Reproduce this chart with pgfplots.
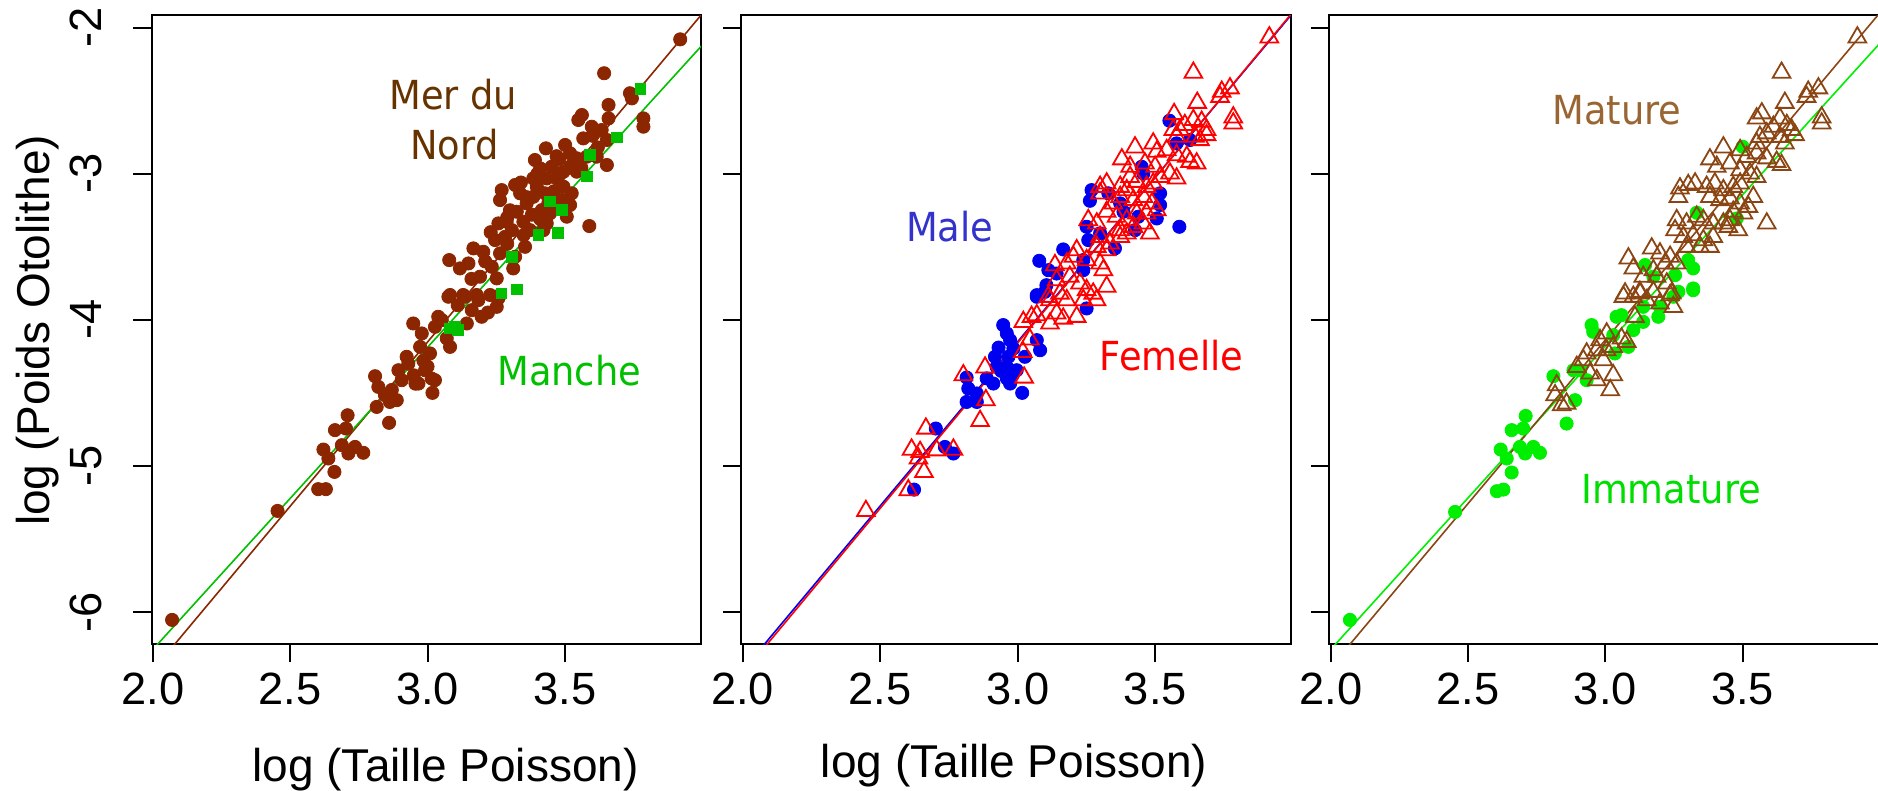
\documentclass[border=0pt]{standalone}
\usepackage{fontspec}
\setmainfont{Liberation Sans}
\newfontfamily\annfont[FakeStretch=0.92]{DejaVu Sans}
\usepackage{pgfplots}
\usepackage{pgfplotstable}
\pgfplotsset{compat=1.18}

\definecolor{nordbrown}{HTML}{8B2600}
\definecolor{nordtext}{HTML}{663300}
\definecolor{manchegreen}{HTML}{00C000}
\definecolor{maleblue}{HTML}{0000F0}
\definecolor{maletext}{HTML}{3333CC}
\definecolor{femred}{HTML}{FF0000}
\definecolor{immgreen}{HTML}{00EE00}
\definecolor{immtext}{HTML}{00DD00}
\definecolor{matbrown}{HTML}{8B4513}
\definecolor{mattext}{HTML}{996633}

% ---- panel 1 : region ----
\pgfplotstableread{
x y
2.070 -6.054
2.454 -5.308
2.602 -5.159
2.630 -5.159
2.661 -5.041
2.621 -4.888
2.639 -4.949
2.663 -4.755
2.703 -4.744
2.709 -4.653
2.688 -4.858
2.712 -4.915
2.736 -4.870
2.766 -4.910
2.860 -4.705
2.815 -4.596
2.809 -4.386
2.821 -4.459
2.863 -4.562
2.888 -4.550
2.845 -4.516
2.894 -4.345
2.924 -4.253
2.906 -4.413
2.967 -4.436
2.991 -4.345
3.027 -4.413
3.018 -4.500
3.009 -4.230
2.973 -4.185
2.948 -4.025
2.979 -4.093
3.027 -4.048
3.039 -3.979
3.070 -4.127
3.082 -4.185
3.076 -3.842
3.137 -3.842
3.185 -3.865
3.143 -4.025
3.197 -3.979
3.252 -3.911
3.258 -3.853
3.161 -3.934
3.052 -4.002
2.870 -4.480
2.930 -4.300
2.950 -4.380
2.985 -4.280
3.000 -4.320
3.015 -4.402
2.956 -4.437
3.110 -3.900
3.220 -3.950
3.920 -2.080
3.643 -2.312
3.737 -2.449
3.744 -2.484
3.659 -2.529
3.562 -2.598
3.549 -2.632
3.786 -2.621
3.786 -2.678
3.659 -2.621
3.598 -2.678
3.634 -2.701
3.653 -2.769
3.567 -2.758
3.431 -2.826
3.501 -2.803
3.519 -2.860
3.543 -2.894
3.580 -2.883
3.616 -2.883
3.653 -2.940
3.391 -2.906
3.452 -2.952
3.410 -2.963
3.495 -2.986
3.543 -2.986
3.385 -3.032
3.434 -3.032
3.471 -3.032
3.270 -3.112
3.319 -3.077
3.337 -3.134
3.264 -3.180
3.398 -3.089
3.385 -3.158
3.428 -3.134
3.495 -3.089
3.525 -3.134
3.489 -3.180
3.361 -3.203
3.325 -3.260
3.416 -3.249
3.446 -3.271
3.471 -3.203
3.519 -3.214
3.507 -3.294
3.589 -3.358
3.434 -3.340
3.422 -3.386
3.258 -3.340
3.288 -3.329
3.307 -3.386
3.349 -3.329
3.373 -3.386
3.355 -3.500
3.246 -3.454
3.282 -3.432
3.167 -3.511
3.203 -3.534
3.264 -3.545
3.312 -3.648
3.319 -3.568
3.079 -3.591
3.118 -3.648
3.149 -3.614
3.234 -3.637
3.252 -3.716
3.191 -3.705
3.082 -3.830
3.130 -3.830
3.179 -3.830
3.228 -3.830
3.264 -3.830
3.300 -3.250
3.350 -3.420
3.210 -3.600
3.160 -3.720
3.290 -3.480
3.380 -3.280
3.460 -3.120
3.560 -2.960
3.480 -2.900
3.230 -3.400
3.400 -3.000
3.470 -2.880
3.520 -2.950
3.600 -2.740
3.360 -3.160
3.290 -3.300
3.440 -3.200
3.340 -3.060
3.410 -3.310
3.620 -2.820
}\nord
\pgfplotstableread{
x y
3.776 -2.420
3.689 -2.751
3.580 -3.020
3.476 -3.404
3.404 -3.420
3.325 -3.792
3.270 -3.820
3.307 -3.568
3.592 -2.872
3.489 -3.249
3.446 -3.191
3.100 -4.048
3.080 -4.060
3.110 -4.070
}\manche

% ---- panel 2 : sex ----
\pgfplotstableread{
x y
2.623 -5.162
2.702 -4.744
2.735 -4.870
2.766 -4.915
2.814 -4.395
2.820 -4.470
2.814 -4.562
2.851 -4.562
2.851 -4.504
2.887 -4.401
2.911 -4.436
2.917 -4.253
2.923 -4.322
2.960 -4.401
2.972 -4.436
2.996 -4.345
2.960 -4.322
3.016 -4.500
2.947 -4.036
2.960 -4.093
2.972 -4.139
2.984 -4.196
2.966 -4.253
3.026 -4.253
3.069 -4.139
3.081 -4.208
3.069 -3.842
3.099 -3.808
3.250 -3.922
2.940 -4.350
2.980 -4.380
2.930 -4.190
3.551 -2.637
3.577 -2.792
3.626 -2.769
3.450 -2.952
3.456 -2.998
3.268 -3.112
3.262 -3.185
3.329 -3.134
3.517 -3.134
3.517 -3.214
3.505 -3.306
3.438 -3.294
3.587 -3.363
3.372 -3.203
3.384 -3.260
3.250 -3.363
3.256 -3.454
3.299 -3.408
3.426 -3.386
3.353 -3.511
3.165 -3.518
3.078 -3.596
3.111 -3.660
3.141 -3.683
3.104 -3.763
3.069 -3.831
3.238 -3.591
3.238 -3.660
}\male
\pgfplotstableread{
x y
2.448 -5.308
2.602 -5.166
2.659 -5.041
2.614 -4.888
2.645 -4.904
2.666 -4.744
2.639 -4.949
2.705 -4.893
2.766 -4.888
2.863 -4.692
2.884 -4.550
2.802 -4.379
2.881 -4.326
3.023 -4.395
3.018 -4.219
3.044 -4.134
3.020 -4.014
3.050 -3.979
3.069 -3.968
3.117 -4.025
3.165 -3.991
3.214 -3.979
3.141 -3.956
3.117 -3.865
3.178 -3.865
3.238 -3.865
3.286 -3.865
3.914 -2.066
3.638 -2.308
3.741 -2.438
3.771 -2.415
3.735 -2.473
3.652 -2.514
3.568 -2.591
3.783 -2.614
3.783 -2.655
3.638 -2.632
3.668 -2.644
3.686 -2.700
3.607 -2.666
3.589 -2.700
3.644 -2.746
3.662 -2.769
3.686 -2.735
3.565 -2.700
3.577 -2.746
3.426 -2.819
3.492 -2.792
3.505 -2.849
3.541 -2.838
3.378 -2.901
3.408 -2.952
3.577 -2.872
3.614 -2.883
3.626 -2.918
3.650 -2.929
3.462 -2.929
3.499 -2.952
3.517 -3.021
3.553 -2.998
3.577 -3.032
3.299 -3.089
3.323 -3.066
3.372 -3.089
3.408 -3.021
3.432 -3.055
3.396 -3.112
3.468 -3.089
3.492 -3.066
3.299 -3.134
3.347 -3.203
3.372 -3.158
3.420 -3.180
3.456 -3.158
3.487 -3.203
3.505 -3.249
3.468 -3.271
3.432 -3.271
3.256 -3.317
3.287 -3.340
3.323 -3.260
3.359 -3.294
3.396 -3.317
3.372 -3.386
3.420 -3.363
3.456 -3.340
3.480 -3.408
3.299 -3.432
3.335 -3.477
3.372 -3.432
3.396 -3.408
3.287 -3.500
3.323 -3.523
3.214 -3.523
3.202 -3.568
3.178 -3.614
3.250 -3.591
3.299 -3.614
3.311 -3.660
3.135 -3.625
3.141 -3.728
3.189 -3.705
3.226 -3.751
3.250 -3.796
3.274 -3.820
3.323 -3.773
3.153 -3.820
3.111 -3.842
}\femelle

% ---- panel 3 : maturity ----
\pgfplotstableread{
x y
2.070 -6.054
2.453 -5.315
2.605 -5.173
2.629 -5.162
2.659 -5.045
2.619 -4.888
2.641 -4.949
2.659 -4.755
2.701 -4.744
2.710 -4.658
2.689 -4.870
2.708 -4.915
2.738 -4.870
2.762 -4.910
2.859 -4.710
2.811 -4.386
2.884 -4.345
2.890 -4.550
2.950 -4.036
2.956 -4.082
3.041 -3.979
3.059 -3.968
3.029 -4.105
3.035 -4.230
3.084 -4.185
3.102 -4.070
3.138 -4.014
3.193 -3.979
3.138 -3.911
3.199 -3.911
3.248 -3.842
3.320 -3.797
2.908 -4.345
2.932 -4.413
3.500 -2.815
3.333 -3.267
3.479 -3.306
3.320 -3.648
3.302 -3.591
3.320 -3.785
3.266 -3.808
3.145 -3.625
3.175 -3.705
3.254 -3.694
}\immature
\pgfplotstableread{
x y
2.823 -4.447
2.817 -4.516
2.859 -4.573
2.841 -4.584
2.896 -4.322
2.920 -4.276
2.945 -4.367
2.969 -4.413
3.018 -4.481
3.029 -4.379
2.932 -4.230
2.969 -4.208
2.993 -4.276
3.005 -4.208
2.981 -4.139
3.005 -4.093
3.029 -4.185
3.059 -4.127
3.078 -4.150
3.066 -3.842
3.102 -3.842
3.126 -3.808
3.151 -3.865
3.199 -3.888
3.248 -3.911
3.236 -3.831
3.175 -3.808
3.108 -3.979
3.918 -2.066
3.642 -2.308
3.739 -2.438
3.776 -2.415
3.733 -2.473
3.654 -2.514
3.570 -2.586
3.551 -2.621
3.788 -2.614
3.788 -2.655
3.636 -2.621
3.661 -2.666
3.679 -2.700
3.612 -2.678
3.588 -2.723
3.636 -2.747
3.654 -2.792
3.691 -2.735
3.563 -2.747
3.551 -2.792
3.430 -2.819
3.491 -2.838
3.515 -2.884
3.551 -2.860
3.588 -2.894
3.381 -2.901
3.406 -2.952
3.624 -2.918
3.642 -2.940
3.454 -2.929
3.491 -2.975
3.527 -2.997
3.551 -3.021
3.272 -3.100
3.302 -3.077
3.327 -3.066
3.266 -3.158
3.369 -3.089
3.399 -3.066
3.430 -3.112
3.466 -3.089
3.491 -3.066
3.381 -3.158
3.418 -3.180
3.454 -3.169
3.491 -3.203
3.521 -3.226
3.539 -3.158
3.503 -3.271
3.466 -3.260
3.588 -3.340
3.260 -3.317
3.296 -3.340
3.333 -3.294
3.357 -3.317
3.393 -3.340
3.430 -3.340
3.454 -3.317
3.484 -3.386
3.448 -3.363
3.254 -3.386
3.284 -3.432
3.320 -3.420
3.357 -3.454
3.393 -3.432
3.381 -3.500
3.345 -3.500
3.296 -3.500
3.169 -3.511
3.199 -3.545
3.236 -3.568
3.218 -3.614
3.260 -3.614
3.175 -3.660
3.084 -3.579
3.102 -3.648
3.138 -3.705
3.187 -3.705
3.224 -3.751
3.242 -3.819
3.127 -3.819
3.072 -3.819
}\mature

\pgfplotsset{
  panel/.style={
    scale only axis,
    width=137.4pt, height=157.3pt,
    anchor=north west,
    ymin=-6.221, ymax=-1.914,
    axis line style={black, line width=0.5pt},
    tick style={black, line width=0.5pt},
    tick align=outside,
    major tick length=4.5pt,
    xtick pos=bottom, ytick pos=left,
    xtick={2,2.5,3,3.5}, xticklabels={2.0,2.5,3.0,3.5},
    ytick={-6,-5,-4,-3,-2},
    ticklabel style={font=\fontsize{11.3}{13}\selectfont},
    xticklabel style={anchor=base, yshift=-10.6pt},
    clip=true,
  },
  dots/.style={only marks, mark=*, mark size=1.65pt, mark options={draw=#1, fill=#1, line width=0.2pt}},
  tris/.style={only marks, mark=triangle, mark size=2.55pt, mark options={draw=#1, line width=0.45pt, fill=none}},
  fit/.style={no marks, draw=#1, line width=0.4pt},
}

\begin{document}
\begin{tikzpicture}
\begin{axis}[panel, at={(37.875pt,-3.775pt)}, xmin=1.995, xmax=3.996,
  yticklabels={-6,-5,-4,-3,-2},
  yticklabel style={xshift=-7.9pt, rotate=90, anchor=base}]
\addplot[dots=nordbrown] table {\nord};
\addplot[only marks, mark=square*, mark size=1.25pt, mark options={draw=manchegreen, fill=manchegreen}] table {\manche};
\addplot[fit=nordbrown] coordinates {(1.9,-6.624) (4.1,-1.680)};
\addplot[fit=manchegreen] coordinates {(1.9,-6.463) (4.1,-1.913)};
\end{axis}

\begin{axis}[panel, at={(185.35pt,-3.775pt)}, xmin=1.9956, xmax=3.9927, yticklabels={}]
\addplot[dots=maleblue] table {\male};
\addplot[tris=femred] table {\femelle};
\addplot[fit=maleblue] coordinates {(1.9,-6.624) (4.1,-1.673)};
\addplot[fit=femred] coordinates {(1.9,-6.649) (4.1,-1.665)};
\end{axis}

\begin{axis}[panel, at={(332.2pt,-3.775pt)}, width=137.5pt, xmin=1.993, xmax=3.996, yticklabels={}]
\addplot[dots=immgreen] table {\immature};
\addplot[tris=matbrown] table {\mature};
\addplot[fit=immgreen] coordinates {(1.9,-6.464) (4.1,-1.899)};
\addplot[fit=matbrown] coordinates {(1.9,-6.602) (4.1,-1.674)};
\end{axis}

% axis titles
\node[rotate=90, anchor=base, inner sep=0pt, font=\fontsize{11.5}{13}\selectfont] at (12.3pt,-82.6pt) {log (Poids Otolithe)};
\node[anchor=base, inner sep=0pt, font=\fontsize{11.5}{13}\selectfont] at (111.4pt,-195.4pt) {log (Taille Poisson)};
\node[anchor=base, inner sep=0pt, font=\fontsize{11.5}{13}\selectfont] at (253.5pt,-194.5pt) {log (Taille Poisson)};

% group labels
\begin{scope}[every node/.style={anchor=base, inner sep=0pt, font=\annfont\fontsize{10}{12}\selectfont}]
\node[text=nordtext] at (113.3pt,-27.3pt) {Mer du};
\node[text=nordtext] at (113.6pt,-40pt) {Nord};
\node[text=manchegreen] at (142.3pt,-96.5pt) {Manche};
\node[text=maletext] at (237.4pt,-60.5pt) {Male};
\node[text=femred] at (292.9pt,-92.75pt) {Femelle};
\node[text=mattext] at (404.2pt,-31.25pt) {Mature};
\node[text=immtext] at (417.8pt,-125.9pt) {Immature};
\end{scope}

\pgfresetboundingbox
\path[use as bounding box] (0pt,0pt) rectangle (469.5pt,-197.75pt);
\end{tikzpicture}
\end{document}
